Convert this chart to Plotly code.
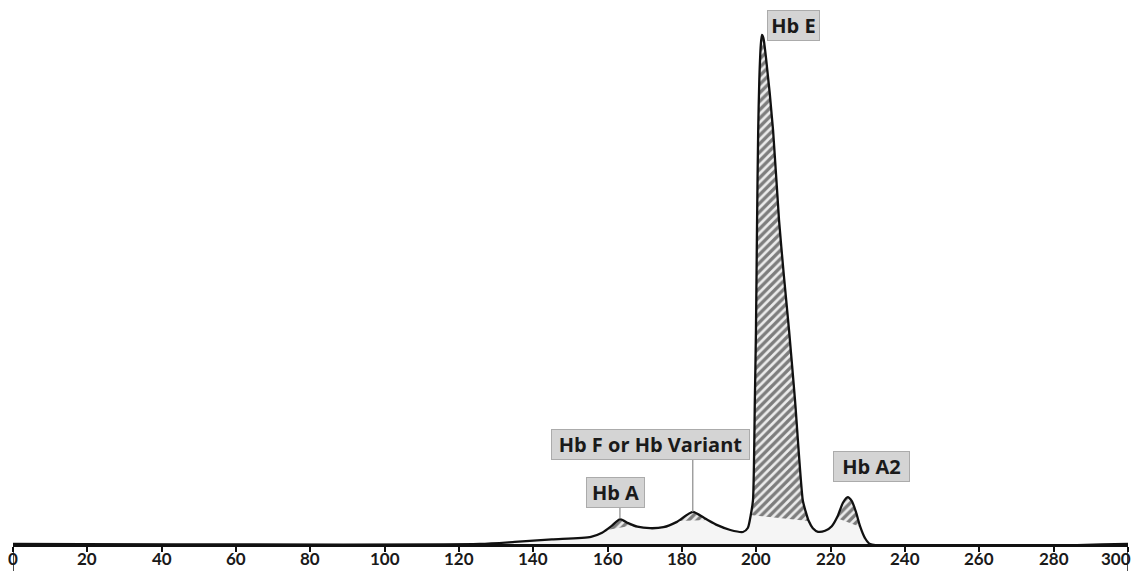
import numpy as np
import plotly.graph_objects as go

# Electropherogram trace (migration position vs relative signal, % of Hb E peak)
pos = [0, 125.6, 135, 145, 155.5, 158.5, 161.0, 163.3, 165.5, 168, 171.4, 175,
       178.5, 182.9, 186, 189.5, 193, 196.4, 197.7, 198.5, 199.1, 199.6, 199.9, 200.2,
       200.5, 200.8, 201.2, 201.5, 201.9, 202.6, 204.5, 206.1, 207.4, 208.8, 210.4,
       212.5, 213.3, 214.1, 215.2, 216.6, 218.5, 220.3, 221.9, 223.3, 224.6, 225.7,
       226.8, 227.9, 229.2, 230.6, 300]
signal = [0, 0, 0.4, 0.9, 1.4, 2.2, 3.5, 4.9, 4.1, 3.4, 3.1, 3.3,
          4.3, 6.3, 5.1, 3.7, 2.75, 2.36, 3.14, 5.7, 8.64, 28.3, 42.0, 63.7,
          81.3, 91.2, 98.0, 100, 99.4, 95.5, 81.3, 63.7, 52.8, 42.0, 28.3,
          8.6, 6.3, 4.5, 3.1, 2.4, 2.6, 3.5, 5.5, 8.1, 9.2, 8.4,
          6.3, 3.5, 1.2, 0, 0]

peak_names = ["Hb A", "Hb F or Hb Variant", "Hb E", "Hb A2"]
peak_pos = [163.3, 182.9, 201.5, 224.6]
peak_bounds = [(159.5, 167.0), (179.0, 187.0), (198.5, 214.1), (221.6, 228.0)]
label_pos = [(162.2, 10.2), (171.4, 19.6), (210.1, 101.8), (231.1, 15.3)]
label_width = [55, 195, 49, 73]

tick_vals = list(range(0, 301, 20))
tick_text = ["%d" % v for v in tick_vals]

pos_a = np.array(pos)
sig_a = np.array(signal)

fig = go.Figure()

# light fill beneath the whole trace
fig.add_trace(go.Scatter(x=pos, y=signal, mode="lines", line=dict(color="rgba(0,0,0,0)", width=0,
                         shape="spline", smoothing=0.6),
                         fill="tozeroy", fillcolor="#f5f5f5", hoverinfo="skip", showlegend=False))

# hatched peak areas
for (a, b) in peak_bounds:
    m = (pos_a > a) & (pos_a < b)
    xs = np.concatenate([[a], pos_a[m], [b]])
    ys = np.concatenate([[np.interp(a, pos_a, sig_a)], sig_a[m], [np.interp(b, pos_a, sig_a)]])
    fig.add_trace(go.Scatter(x=xs, y=ys, mode="lines",
                             line=dict(color="rgba(0,0,0,0)", width=0, shape="spline", smoothing=0.6),
                             fill="toself",
                             fillpattern=dict(shape="/", fgcolor="#0d0d0d", bgcolor="#ececec",
                                              size=6, solidity=0.55),
                             hoverinfo="skip", showlegend=False))

# main trace line
fig.add_trace(go.Scatter(x=pos, y=signal, mode="lines",
                         line=dict(color="#111111", width=2.3, shape="spline", smoothing=0.6),
                         hoverinfo="skip", showlegend=False))

# peak labels
for name, (lx, ly), w in zip(peak_names, label_pos, label_width):
    fig.add_annotation(x=lx, y=ly, xref="x", yref="y", text="<b>%s</b>" % name, showarrow=False,
                       font=dict(family="Open Sans", size=20, color="#1a1a1a"),
                       bgcolor="#d4d4d4", bordercolor="#ababab", borderwidth=1, borderpad=1,
                       width=w, align="center")

# tick labels (placed just under the axis line)
for i, (tv, tt) in enumerate(zip(tick_vals, tick_text)):
    last = i == len(tick_vals) - 1
    fig.add_annotation(x=tv, y=0, xref="x", yref="paper", text="<b>%s</b>" % tt, showarrow=False,
                       xanchor="right" if last else "center", yanchor="middle",
                       xshift=5 if last else 0, yshift=-14,
                       font=dict(family="Lato", size=17, color="#1a1a1a"))

# leader lines for Hb A and Hb F
leaders = [(peak_pos[0], 4.9, 7.4), (peak_pos[1], 6.3, 17.1)]
for (lx, y0, y1) in leaders:
    fig.add_shape(type="line", x0=lx, x1=lx, y0=y0, y1=y1, xref="x", yref="y",
                  line=dict(color="#8a8a8a", width=1.2))

# end marks at 0 and 300 extending below the axis
for xv in (0, 300):
    fig.add_shape(type="line", x0=xv, x1=xv, y0=0, y1=-0.06, xref="x", yref="paper",
                  line=dict(color="#111111", width=1.5))
# axis line extension beyond 300
fig.add_shape(type="line", x0=300, x1=303.5, y0=0, y1=0, xref="x", yref="y",
              line=dict(color="#111111", width=3))

fig.update_layout(
    width=1134, height=563,
    margin=dict(l=5, r=14, t=0, b=27),
    paper_bgcolor="white", plot_bgcolor="white",
    showlegend=False,
    xaxis=dict(range=[0, 300], tickvals=tick_vals, showticklabels=False,
               showline=True, linecolor="#111111", linewidth=3, ticks="outside", ticklen=5,
               tickwidth=2, tickcolor="#111111", showgrid=False, zeroline=False,
               automargin=False),
    yaxis=dict(range=[0, 105.3], visible=False, showgrid=False, zeroline=False),
)

fig.write_html("out.html")
